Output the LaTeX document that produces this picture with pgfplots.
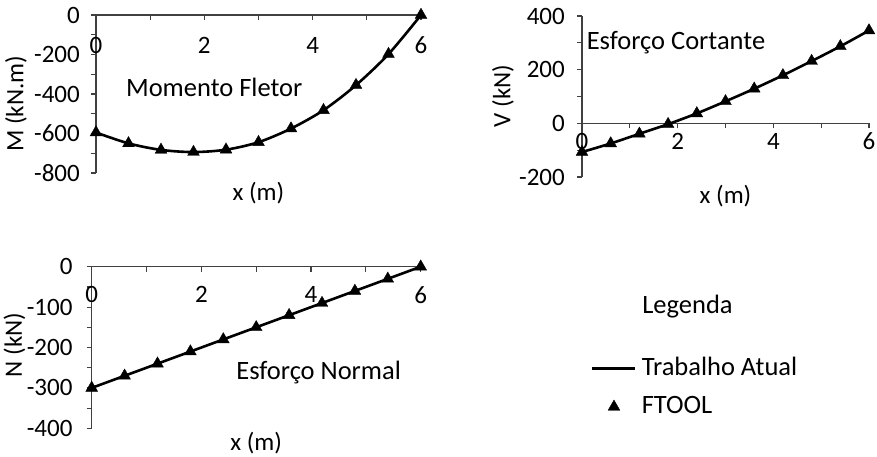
\documentclass[border=0pt]{standalone}
\usepackage{fontspec}
\setmainfont{Carlito}
\usepackage{pgfplots}
\pgfplotsset{compat=1.18}
\newcommand{\bigtxt}{\fontsize{26.5}{32}\selectfont}
\pgfplotsset{
  diag/.style={
    scale only axis,
    clip=false,
    xmin=0, xmax=6,
    xtick={0,2,4,6},
    xticklabels={0,2,4,6},
    minor xtick={1,3,5},
    axis line style={black!75, line width=1.2pt},
    tick style={black!75, line width=1.2pt},
    major tick length=5pt,
    minor tick length=5pt,
  },
  legend image code/.code={\draw[mark repeat=2,mark phase=2,#1] plot coordinates {(0pt,0pt) (21.5pt,0pt) (43pt,0pt)};},
}
\begin{document}
\fontsize{25}{30}\selectfont
\begin{tikzpicture}
\useasboundingbox (0,0) rectangle (877pt,-456pt);
% ---------- Momento Fletor
\begin{axis}[diag,
  at={(96pt,-15pt)}, anchor=north west, width=325pt, height=158pt,
  ymin=-800, ymax=0,
  ytick={-800,-600,-400,-200,0}, yticklabels={-800,-600,-400,-200,0},
  minor ytick={-700,-500,-300,-100},
  axis x line*=top, axis y line*=left,
  xtick align=inside, ytick align=outside,
  xticklabel style={inner sep=0pt, anchor=center, yshift=-30pt},
  yticklabel style={inner sep=0pt, anchor=east, xshift=-11pt},
  xlabel={x (m)}, ylabel={M (kN.m)},
  xlabel style={at={(axis description cs:0.5,0)}, anchor=center, inner sep=0pt, yshift=-20.5pt},
  ylabel style={at={(axis description cs:-0.246,0.437)}, anchor=center, inner sep=0pt},
]
\addplot[black, line width=2.6pt, smooth] table {
x y
0 -595
0.6 -650
1.2 -683
1.8 -694
2.4 -682
3.0 -644
3.6 -575
4.2 -482
4.8 -355
5.4 -198
6.0 0
};
\addplot[black, only marks, mark=triangle*, mark size=6.8pt] table {
x y
0 -595
0.6 -650
1.2 -683
1.8 -694
2.4 -682
3.0 -644
3.6 -575
4.2 -482
4.8 -355
5.4 -198
6.0 0
};
\node[anchor=base west, inner sep=0pt, font=\bigtxt] at (axis description cs:0.092,0.483) {Momento Fletor};
\end{axis}
% ---------- Esforco Cortante
\begin{axis}[diag,
  at={(582pt,-16pt)}, anchor=north west, width=287pt, height=161pt,
  ymin=-200, ymax=400,
  ytick={-200,0,200,400}, yticklabels={-200,0,200,400},
  minor ytick={-100,100,300},
  axis x line*=middle, axis y line*=left,
  hide obscured x ticks=false,
  xtick align=outside, ytick align=outside,
  xticklabel style={inner sep=0pt, anchor=center, yshift=-13pt},
  yticklabel style={inner sep=0pt, anchor=east, xshift=-12pt},
  xlabel={x (m)}, ylabel={V (kN)},
  xlabel style={at={(axis description cs:0.5,0)}, anchor=center, inner sep=0pt, yshift=-19pt},
  ylabel style={at={(axis description cs:-0.275,0.503)}, anchor=center, inner sep=0pt},
]
\addplot[black, line width=2.6pt, smooth] table {
x y
0 -107
0.6 -75
1.2 -39
1.8 -3
2.4 37
3.0 82
3.6 129
4.2 179
4.8 232
5.4 287
6.0 346
};
\addplot[black, only marks, mark=triangle*, mark size=6.8pt] table {
x y
0 -107
0.6 -75
1.2 -39
1.8 -3
2.4 37
3.0 82
3.6 129
4.2 179
4.8 232
5.4 287
6.0 346
};
\node[anchor=base west, inner sep=0pt, font=\bigtxt] at (axis description cs:0.016,0.793) {Esforço Cortante};
\end{axis}
% ---------- Esforco Normal
\begin{axis}[diag,
  at={(91.7pt,-266.7pt)}, anchor=north west, width=329pt, height=161.6pt,
  ymin=-400, ymax=0,
  ytick={-400,-300,-200,-100,0}, yticklabels={-400,-300,-200,-100,0},
  minor ytick={-350,-250,-150,-50},
  axis x line*=top, axis y line*=left,
  xtick align=inside, ytick align=outside,
  xticklabel style={inner sep=0pt, anchor=center, yshift=-28pt},
  yticklabel style={inner sep=0pt, anchor=east, xshift=-14pt},
  xlabel={x (m)}, ylabel={N (kN)},
  xlabel style={at={(axis description cs:0.5,0)}, anchor=center, inner sep=0pt, yshift=-15pt},
  ylabel style={at={(axis description cs:-0.235,0.515)}, anchor=center, inner sep=0pt},
  legend style={draw=none, fill=none, inner sep=0pt, at={(axis description cs:1.5176,0.441)}, anchor=north west,
    row sep=17pt, column sep=5pt, nodes={inner sep=0pt}, cells={anchor=west}, font=\bigtxt},
]
\addplot[black, line width=2.6pt] table {
x y
0 -300
0.6 -270
1.2 -240
1.8 -210
2.4 -180
3.0 -150
3.6 -120
4.2 -90
4.8 -60
5.4 -30
6.0 0
};
\addlegendentry{Trabalho Atual}
\addplot[black, only marks, mark=triangle*, mark size=6.8pt] table {
x y
0 -300
0.6 -270
1.2 -240
1.8 -210
2.4 -180
3.0 -150
3.6 -120
4.2 -90
4.8 -60
5.4 -30
6.0 0
};
\addlegendentry{FTOOL}
\node[anchor=base west, inner sep=0pt, font=\bigtxt] at (axis description cs:0.439,0.303) {Esforço Normal};
\node[anchor=base west, inner sep=0pt, font=\bigtxt] at (axis description cs:1.673,0.712) {Legenda};
\end{axis}
\end{tikzpicture}
\end{document}
